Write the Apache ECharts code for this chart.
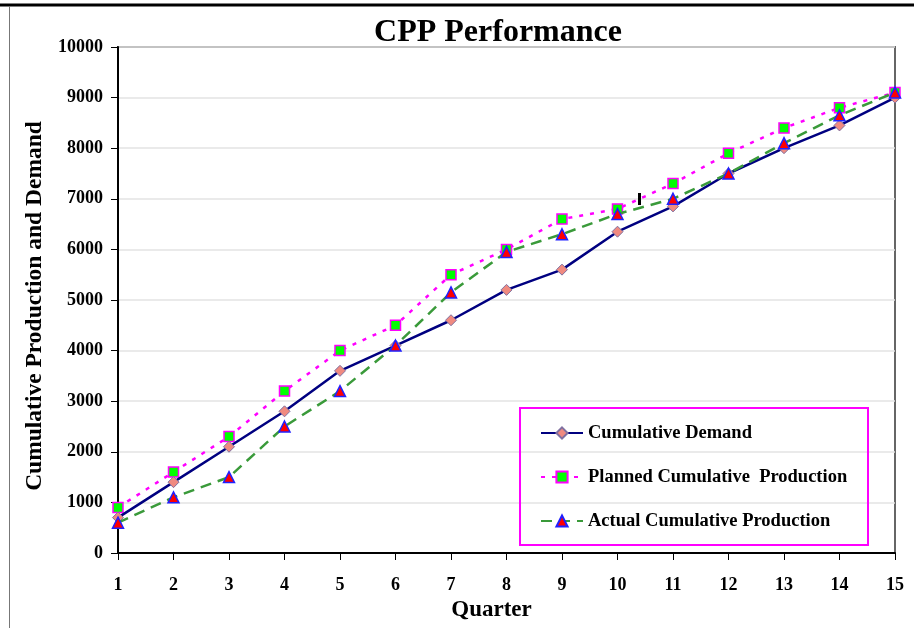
<!DOCTYPE html>
<html>
<head>
<meta charset="utf-8">
<script src="https://cdn.jsdelivr.net/npm/echarts@6/dist/echarts.min.js"></script>
<style>html,body{margin:0;padding:0;background:#fff;}#c{width:914px;height:628px;}</style>
</head>
<body>
<div id="c"></div>
<script>
var quarters = ['1','2','3','4','5','6','7','8','9','10','11','12','13','14','15'];
var cumulativeDemand = [700,1400,2100,2800,3600,4100,4600,5200,5600,6350,6850,7500,8000,8450,9000];
var plannedProduction = [900,1600,2300,3200,4000,4500,5500,6000,6600,6800,7300,7900,8400,8800,9100];
var actualProduction = [600,1100,1500,2500,3200,4100,5150,5950,6300,6700,7000,7500,8100,8650,9100];
var seriesNames = ['Cumulative Demand','Planned Cumulative  Production','Actual Cumulative Production'];

var font = '"Liberation Serif","Times New Roman",serif';
var chart = echarts.init(document.getElementById('c'), null, {renderer:'canvas'});
chart.setOption({
  animation:false,
  backgroundColor:'#fff',
  title:{text:'CPP Performance',left:493,top:12,textAlign:'center',
    textStyle:{fontFamily:font,fontWeight:'bold',fontSize:32,color:'#000'}},
  grid:{left:118,right:19,top:47,bottom:75,show:true,borderColor:'#666',borderWidth:2,containLabel:false},
  xAxis:{type:'category',data:quarters,boundaryGap:false,
    name:'Quarter',nameLocation:'middle',nameGap:43,
    nameTextStyle:{fontFamily:font,fontWeight:'bold',fontSize:23,color:'#000',padding:[0,30,0,0]},
    axisLine:{lineStyle:{color:'#000',width:2}},
    axisTick:{show:true,alignWithLabel:true,length:7,inside:false,lineStyle:{color:'#000'}},
    axisLabel:{fontFamily:font,fontWeight:'bold',fontSize:18,color:'#000',margin:23},
    splitLine:{show:false}},
  yAxis:{type:'value',min:0,max:10000,interval:1000,
    name:'Cumulative Production and Demand',nameLocation:'middle',nameGap:71,nameRotate:90,
    nameTextStyle:{fontFamily:font,fontWeight:'bold',fontSize:23.5,color:'#000',padding:[0,12,0,0]},
    axisLine:{show:true,lineStyle:{color:'#000',width:2}},
    axisTick:{show:true,length:7,lineStyle:{color:'#000'}},
    axisLabel:{fontFamily:font,fontWeight:'bold',fontSize:18,color:'#000',margin:15,
      formatter:function(v){return String(v);}},
    splitLine:{show:true,lineStyle:{color:'#e3e3e3',width:1.5}}},
  legend:{left:540,top:423,padding:0,orient:'vertical',itemGap:24,itemWidth:42,itemHeight:14,
    data:seriesNames,
    textStyle:{fontFamily:font,fontWeight:'bold',fontSize:18.5,lineHeight:20,color:'#000'}},
  graphic:[
    {type:'rect',shape:{x:520,y:408,width:348,height:137},style:{fill:'none',stroke:'#ff00ff',lineWidth:2},z:100},
    {type:'line',shape:{x1:0,y1:5,x2:914,y2:5},style:{stroke:'#000',lineWidth:3}},
    {type:'line',shape:{x1:9.5,y1:6,x2:9.5,y2:628},style:{stroke:'#777',lineWidth:1}},
    {type:'rect',shape:{x:638,y:193,width:3,height:12},style:{fill:'#000'},z:100}
  ],
  series:[
    {name:seriesNames[0],type:'line',data:cumulativeDemand,symbol:'diamond',symbolSize:11,
      lineStyle:{color:'#000080',width:2.5},
      itemStyle:{color:'#f08a80',borderColor:'#8070a0',borderWidth:1},z:3},
    {name:seriesNames[1],type:'line',data:plannedProduction,symbol:'rect',symbolSize:10,
      lineStyle:{color:'#ff00ff',width:2.5,type:[4,7]},
      itemStyle:{color:'#00ff00',borderColor:'#ff00ff',borderWidth:1.5},z:2},
    {name:seriesNames[2],type:'line',data:actualProduction,symbol:'triangle',symbolSize:11,
      lineStyle:{color:'#3a9a3a',width:2.5,type:[11,7]},
      itemStyle:{color:'#ff0000',borderColor:'#2020ff',borderWidth:1.5},z:4}
  ]
});
</script>
</body>
</html>
